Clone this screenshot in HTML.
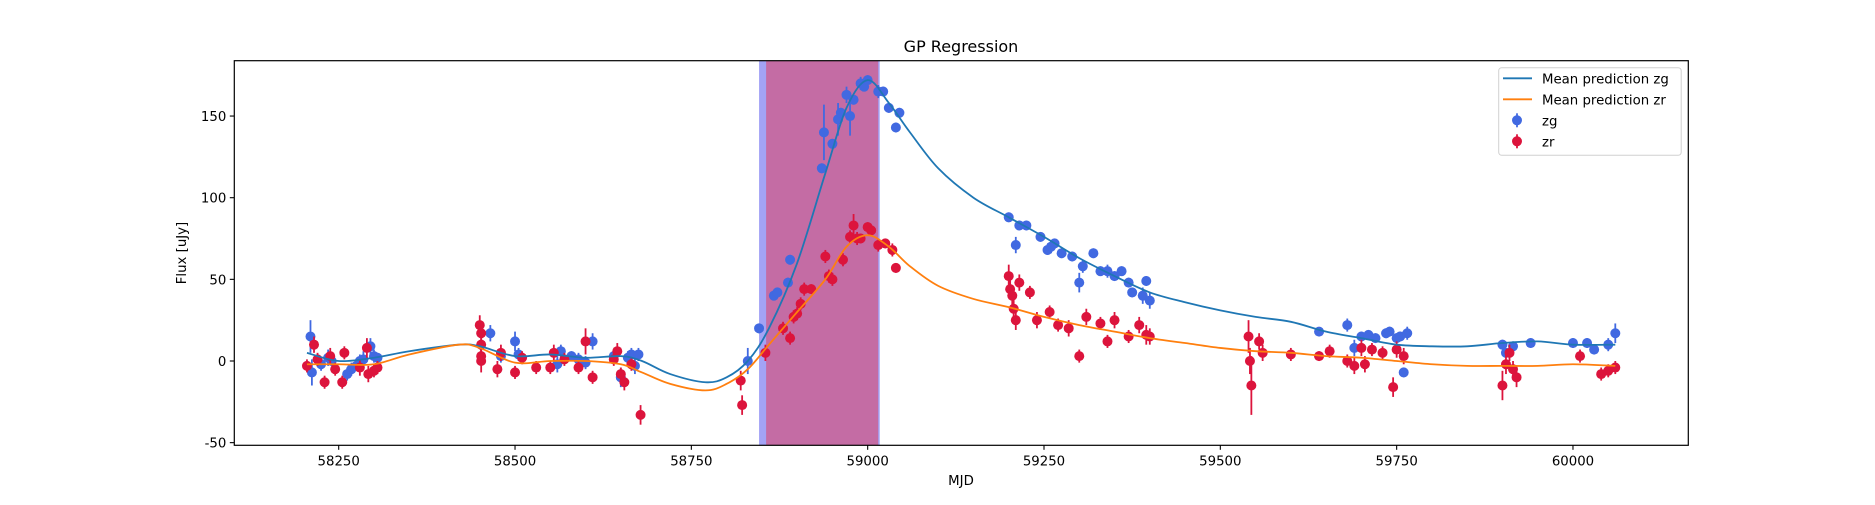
<!DOCTYPE html>
<html><head><meta charset="utf-8"><style>
body{margin:0;background:#fff;}
svg text{font-family:"DejaVu Sans","Liberation Sans",sans-serif;}
</style></head><body>
<svg id="chart" width="1875" height="500" xmlns="http://www.w3.org/2000/svg">
<rect width="1875" height="500" fill="#fff"/>
<text x="961" y="52" font-size="16" text-anchor="middle">GP Regression</text>
<text x="961" y="485" font-size="13.3" text-anchor="middle">MJD</text>
<text x="186" y="253" font-size="13.3" text-anchor="middle" transform="rotate(-90 186 253)">Flux [uJy]</text>
<g id="plot"></g>
</svg>
<script>
const xTicks=[58250,58500,58750,59000,59250,59500,59750,60000];
const yTicks=[-50,0,50,100,150];
const spanBlue=[58846,59016];
const spanMag=[58856,59016];
const meanZgX=[58205,58250,58300,58350,58420,58450,58500,58550,58600,58650,58680,58720,58770,58800,58830,58860,58900,58940,58970,59000,59030,59060,59100,59150,59200,59250,59300,59350,59400,59450,59500,59550,59600,59650,59700,59750,59800,59850,59900,59950,60000,60060];
const meanZgY=[5,0,2,6,10,9,3,4,2,3,0,-8,-13,-10,0,20,60,115,155,172,158,140,118,100,88,76,63,52,42,36,31,27,24,18,14,10,9,9,11,12,10,10];
const meanZrX=meanZgX;
const meanZrY=[-2,-2,-2,4,10,8,-1,0,0,-2,-7,-14,-18,-14,-5,10,30,50,70,77,70,58,46,38,33,27,22,18,14,11,8,6,5,3,2,0,-2,-3,-3,-3,-2,-3];
const zgX=[58210,58212,58225,58235,58240,58262,58268,58275,58280,58285,58295,58300,58305,58465,58480,58500,58505,58560,58565,58580,58590,58600,58610,58640,58650,58660,58665,58670,58675,58830,58846,58867,58872,58887,58890,58935,58938,58950,58958,58962,58970,58975,58980,58990,58995,59000,59015,59022,59030,59040,59045,59200,59210,59215,59225,59245,59255,59260,59265,59275,59290,59300,59305,59320,59330,59340,59350,59360,59370,59375,59390,59395,59400,59640,59680,59690,59700,59710,59720,59735,59740,59750,59755,59760,59765,59900,59905,59915,59940,60000,60020,60030,60050,60060];
const zgY=[15,-7,-2,2,0,-8,-5,-3,0,1,9,3,2,17,3,12,4,-2,6,3,1,-1,12,3,-10,2,4,-3,4,0,20,40,42,48,62,118,140,133,148,152,163,150,160,170,168,172,165,165,155,143,152,88,71,83,83,76,68,70,72,66,64,48,58,66,55,55,52,55,48,42,40,49,37,18,22,8,15,16,14,17,18,14,15,-7,17,10,5,9,11,11,11,7,10,17];
const zgErr=[10,8,4,5,3,4,4,3,4,5,5,4,3,5,4,6,4,5,4,3,4,4,5,4,6,4,4,5,4,8,3,3,3,3,3,3,17,3,10,3,5,12,3,4,3,3,4,3,3,3,3,3,5,3,3,3,3,4,3,3,3,6,4,3,3,4,3,3,3,3,5,3,5,2,4,5,3,3,3,3,3,3,3,3,4,3,3,3,3,3,3,3,4,6];
const zrX=[58205,58215,58220,58230,58238,58245,58255,58258,58280,58290,58292,58300,58305,58450,58452,58452,58452,58452,58475,58480,58500,58510,58530,58550,58555,58570,58590,58600,58610,58640,58645,58650,58655,58665,58678,58820,58822,58855,58880,58890,58895,58900,58905,58910,58920,58940,58945,58950,58965,58975,58980,58985,58990,59000,59005,59015,59025,59035,59040,59200,59202,59205,59207,59210,59215,59230,59240,59258,59270,59285,59300,59310,59330,59340,59350,59370,59385,59395,59400,59540,59542,59544,59555,59560,59600,59640,59655,59680,59690,59700,59705,59715,59730,59745,59750,59760,59900,59905,59910,59915,59920,60010,60040,60050,60060];
const zrY=[-3,10,1,-13,3,-5,-13,5,-4,8,-8,-6,-4,22,17,10,3,0,-5,5,-7,2,-4,-4,5,1,-4,12,-10,1,6,-8,-13,-2,-33,-12,-27,5,20,14,27,29,35,44,44,64,52,50,62,76,83,75,75,82,80,71,72,68,57,52,44,40,32,25,48,42,25,30,22,20,3,27,23,12,25,15,22,16,15,15,0,-15,12,5,4,3,6,0,-3,8,-2,7,5,-16,7,3,-15,-2,5,-5,-10,3,-8,-6,-4];
const zrErr=[4,5,4,4,5,4,4,4,5,6,5,4,4,6,5,5,5,7,5,5,4,4,4,4,5,4,4,8,4,4,5,4,5,4,6,6,6,5,4,4,4,4,4,4,3,4,4,4,4,4,7,4,3,3,3,4,3,4,3,7,6,6,6,6,5,4,5,4,4,5,4,5,4,4,5,4,5,6,5,10,8,18,5,5,4,3,4,4,5,5,5,4,4,6,5,5,9,6,5,5,6,4,4,4,4];

const L=234.3,R=1688.3,T=60.7,B=445.3;
const X=v=>338.7+(v-58250)*0.7053;
const Y=v=>361-v*1.633;
const NS="http://www.w3.org/2000/svg";
const g=document.getElementById('plot');
function mk(tag,attrs,parent){const e=document.createElementNS(NS,tag);for(const k in attrs)e.setAttribute(k,attrs[k]);(parent||g).appendChild(e);return e;}

let e=mk('rect',{x:X(spanBlue[0]),y:T,width:X(spanBlue[1])-X(spanBlue[0]),height:B-T,fill:'#a3a3f5'});


e=mk('rect',{x:X(spanMag[0]),y:T,width:X(spanMag[1])-X(spanMag[0]),height:B-T,fill:'#c46ca4'});


mk('line',{x1:X(spanBlue[1]),x2:X(spanBlue[1]),y1:T,y2:B,stroke:'#a3a3f5','stroke-width':1.5});

function smooth(xs,ys){let p=xs.map((x,i)=>[X(x),Y(ys[i])]);let d='M'+p[0][0]+','+p[0][1];
for(let i=0;i<p.length-1;i++){const p0=p[Math.max(0,i-1)],p1=p[i],p2=p[i+1],p3=p[Math.min(p.length-1,i+2)];
const c1=[p1[0]+(p2[0]-p0[0])/6,p1[1]+(p2[1]-p0[1])/6],c2=[p2[0]-(p3[0]-p1[0])/6,p2[1]-(p3[1]-p1[1])/6];
d+=`C${c1[0]},${c1[1]} ${c2[0]},${c2[1]} ${p2[0]},${p2[1]}`;}return d;}

function pts(xs,ys,er,col,name){const gg=mk('g',{});


xs.forEach((x,i)=>{const l=mk('line',{x1:X(x),x2:X(x),y1:Y(ys[i]-er[i]),y2:Y(ys[i]+er[i]),stroke:col,'stroke-width':1.8},gg);


const c=mk('circle',{cx:X(x),cy:Y(ys[i]),r:5,fill:col},gg);

});}
pts(zgX,zgY,zgErr,'#4169e1','zg');
pts(zrX,zrY,zrErr,'#dc143c','zr');

e=mk('path',{d:smooth(meanZgX,meanZgY),fill:'none',stroke:'#1f77b4','stroke-width':1.8});


e=mk('path',{d:smooth(meanZrX,meanZrY),fill:'none',stroke:'#ff7f0e','stroke-width':1.8});



e=mk('rect',{x:L,y:T,width:R-L,height:B-T,fill:'none',stroke:'#000','stroke-width':1.2});


xTicks.forEach(t=>{const x=X(t);mk('line',{x1:x,x2:x,y1:B,y2:B+4.5,stroke:'#000','stroke-width':1.1});
const tx=mk('text',{x:x,y:B+20,'font-size':13.3,'text-anchor':'middle'});tx.textContent=t;

});
yTicks.forEach(t=>{const y=Y(t);mk('line',{x1:L-4.5,x2:L,y1:y,y2:y,stroke:'#000','stroke-width':1.1});
const tx=mk('text',{x:L-8,y:y+5,'font-size':13.3,'text-anchor':'end'});tx.textContent=t;

});

const lg=mk('g',{});


mk('rect',{x:1498.7,y:67.7,width:182.5,height:87.6,rx:3,fill:'#fff',stroke:'#ccc',opacity:0.9},lg);
const items=[['line','#1f77b4','Mean prediction zg'],['line','#ff7f0e','Mean prediction zr'],['pt','#4169e1','zg'],['pt','#dc143c','zr']];
items.forEach((it,i)=>{const y=78.3+i*21;
if(it[0]==='line')mk('line',{x1:1503,x2:1532,y1:y,y2:y,stroke:it[1],'stroke-width':1.8},lg);
else{mk('line',{x1:1517,x2:1517,y1:y-7,y2:y+7,stroke:it[1],'stroke-width':1.8},lg);mk('circle',{cx:1517,cy:y,r:5,fill:it[1]},lg);}
const tx=mk('text',{x:1542,y:y+5,'font-size':13.3},lg);tx.textContent=it[2];

});
</script>
</body></html>
